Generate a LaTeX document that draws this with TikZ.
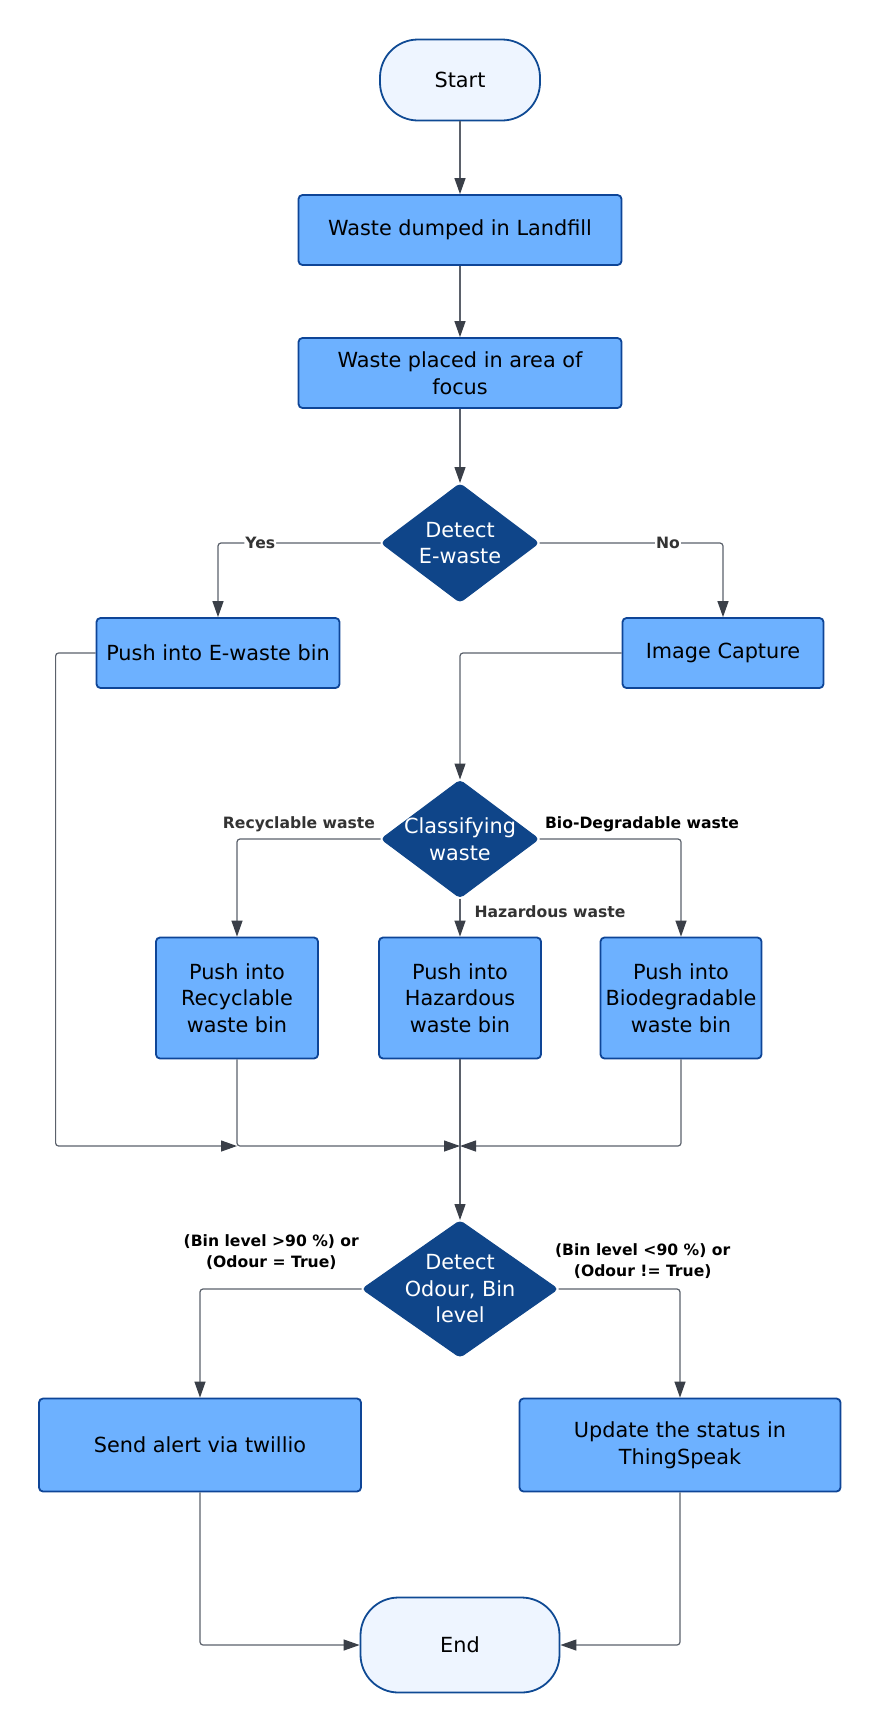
\documentclass[tikz,border=0pt]{standalone}
\usepackage{fontspec}
\setmainfont{DejaVu Sans}
\usetikzlibrary{arrows.meta, shapes.geometric, calc}

\definecolor{boxfill}{HTML}{6DB1FF}
\definecolor{boxline}{HTML}{0E4597}
\definecolor{diafill}{HTML}{0F4589}
\definecolor{termfill}{HTML}{EEF5FF}
\definecolor{termline}{HTML}{0F4A94}
\definecolor{linegray}{HTML}{5B616B}
\definecolor{tipgray}{HTML}{3A3F48}
\definecolor{labgray}{HTML}{333333}

\tikzset{
  process/.style={draw=boxline, fill=boxfill, line width=1.8pt, rounded corners=4pt,
    align=center, inner sep=0pt, font=\fontsize{20.8}{26.5}\selectfont},
  terminal/.style={draw=termline, fill=termfill, line width=1.8pt, rounded corners=38pt,
    align=center, inner sep=0pt, font=\fontsize{20.8}{26.5}\selectfont},
  decision/.style={diamond, draw=diafill, fill=diafill, line width=1pt, rounded corners=4pt,
    inner sep=0pt},
  dtext/.style={text=white, align=center, font=\fontsize{20.8}{26.5}\selectfont},
  conn/.style={draw=linegray, line width=1.2pt, rounded corners=3pt,
    -{Triangle[length=16pt, width=11pt, color=tipgray]}},
  branch/.style={font=\bfseries\fontsize{15.6}{21}\selectfont, text=labgray, fill=white,
    inner sep=1pt, align=center},
}

\begin{document}
\begin{tikzpicture}[x=1pt, y=-1pt]

 %% canvas, same size as the drawing
\useasboundingbox (0,0) rectangle (877,1732);

 %%Parameters
\def\midX{460}
\def\mergeY{1146}

%% main column
\node[terminal, minimum width=160pt, minimum height=81pt] (start) at (\midX, 80) {Start};
\node[process, minimum width=323pt, minimum height=70pt] (landfill) at (\midX, 230) {Waste dumped in Landfill};
\node[process, minimum width=323pt, minimum height=70pt] (focus) at (\midX, 373) {Waste placed in area of\\focus};
\node[decision, minimum width=158pt, minimum height=119pt,
      label={[dtext]center:Detect\\E-waste}] (ewaste) at (\midX, 543) {};

%% E-waste or not
\node[process, minimum width=243pt, minimum height=70pt] (ebin) at (218, 653) {Push into E-waste bin};
\node[process, minimum width=201pt, minimum height=70pt] (capture) at (723, 653) {Image Capture};

%% classification
\node[decision, minimum width=158pt, minimum height=118pt,
      label={[dtext]center:Classifying\\waste}] (classify) at (\midX, 839) {};
\node[process, minimum width=162pt, minimum height=121pt] (recbin) at (237, 998) {Push into\\Recyclable\\waste bin};
\node[process, minimum width=162pt, minimum height=121pt] (hazbin) at (\midX, 998) {Push into\\Hazardous\\waste bin};
\node[process, minimum width=161pt, minimum height=121pt] (biobin) at (681, 998) {Push into\\Biodegradable\\waste bin};

\coordinate (merge) at (\midX, \mergeY);

%% bin level check
\node[decision, minimum width=196pt, minimum height=137pt,
      label={[dtext]center:Detect\\Odour, Bin\\level}] (odour) at (\midX, 1289) {};
\node[process, minimum width=322pt, minimum height=93pt] (alert) at (200, 1445) {Send alert via twillio};
\node[process, minimum width=321pt, minimum height=93pt] (update) at (680, 1445) {Update the status in\\ThingSpeak};
\node[terminal, minimum width=199pt, minimum height=95pt] (end) at (\midX, 1645) {End};

%% connectors
\draw[conn] (start) -- (landfill);
\draw[conn] (landfill) -- (focus);
\draw[conn] (focus) -- (ewaste);
\draw[conn] (ewaste.west) -| node[branch, pos=0.37]{Yes} (ebin.north);
\draw[conn] (ewaste.east) -| node[branch, pos=0.35]{No} (capture.north);
\draw[conn] (capture.west) -| (classify.north);
\draw[conn] (ebin.west) -- ++(-40,0) |- (recbin.south |- merge);

% Recyclable
\draw[conn] (classify.west) node[branch, anchor=south east, xshift=-4pt, yshift=6pt]{Recyclable waste} -| (recbin.north);
% Hazardous
\draw[conn] (classify.south) -- node[branch, right, pos=0.35, xshift=13pt]{Hazardous waste} (hazbin.north);
% Bio-Degradable
\draw[conn] (classify.east) node[branch, anchor=south west, xshift=4pt, yshift=6pt, text=black]{Bio-Degradable waste} -| (biobin.north);

\draw[conn] (recbin.south) |- (merge);
\draw[conn] (biobin.south) |- (merge);
\draw[conn] (hazbin.south) -- (odour.north);

% Bin full or odour
\draw[conn] (odour.west) node[branch, anchor=south east, xshift=-1pt, yshift=18pt, text=black]{(Bin level >90 \%) or\\(Odour = True)} -| (alert.north);
% Bin not full
\draw[conn] (odour.east) node[branch, anchor=south west, xshift=-5pt, yshift=9pt, text=black]{(Bin level <90 \%) or\\(Odour != True)} -| (update.north);

\draw[conn] (alert.south) |- (end.west);
\draw[conn] (update.south) |- (end.east);

 \end{tikzpicture}
\end{document}
